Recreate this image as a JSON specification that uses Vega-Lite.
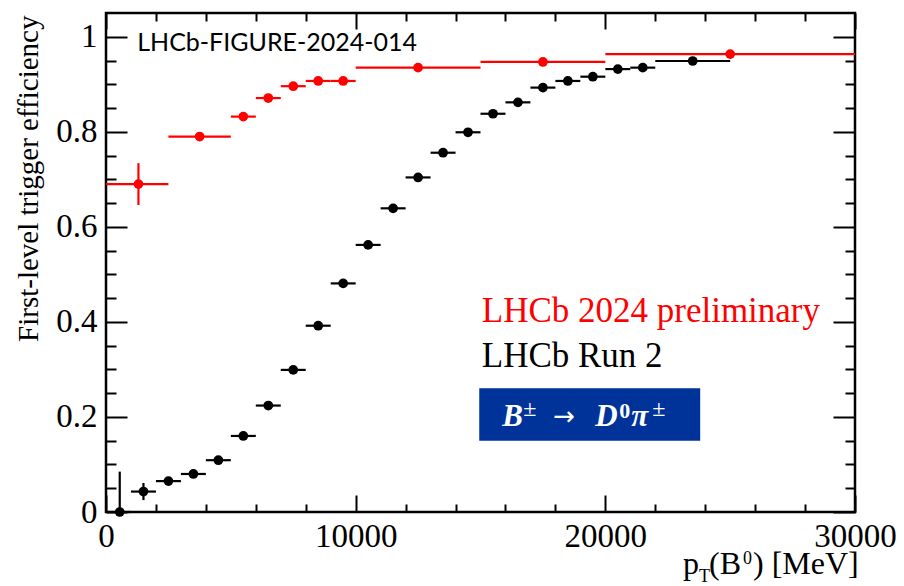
{
  "$schema": "https://vega.github.io/schema/vega-lite/v6.json",
  "width": 749,
  "height": 499,
  "autosize": "none",
  "padding": {"left": 106, "top": 13, "right": 49, "bottom": 74},
  "background": "white",
  "config": {
    "view": {"stroke": "black", "strokeWidth": 2.5},
    "axis": {"domain": false, "grid": false, "tickColor": "black", "tickWidth": 2, "labelColor": "black", "labelFont": "Liberation Serif", "labelFontSize": 33, "labelOverlap": false, "labelFlush": false, "titleColor": "black"}
  },
  "datasets": {
    "eff": [
    {"series": "Run 2", "x": 550, "xlo": 0, "xhi": 1000, "y": 0.0, "ylo": 0.0, "yhi": 0.085},
    {"series": "Run 2", "x": 1500, "xlo": 1000, "xhi": 2000, "y": 0.043, "ylo": 0.025, "yhi": 0.061},
    {"series": "Run 2", "x": 2500, "xlo": 2000, "xhi": 3000, "y": 0.065, "ylo": 0.058, "yhi": 0.072},
    {"series": "Run 2", "x": 3500, "xlo": 3000, "xhi": 4000, "y": 0.080, "ylo": 0.074, "yhi": 0.086},
    {"series": "Run 2", "x": 4500, "xlo": 4000, "xhi": 5000, "y": 0.109, "ylo": 0.104, "yhi": 0.114},
    {"series": "Run 2", "x": 5500, "xlo": 5000, "xhi": 6000, "y": 0.160, "ylo": 0.155, "yhi": 0.165},
    {"series": "Run 2", "x": 6500, "xlo": 6000, "xhi": 7000, "y": 0.224, "ylo": 0.219, "yhi": 0.229},
    {"series": "Run 2", "x": 7500, "xlo": 7000, "xhi": 8000, "y": 0.299, "ylo": 0.294, "yhi": 0.304},
    {"series": "Run 2", "x": 8500, "xlo": 8000, "xhi": 9000, "y": 0.392, "ylo": 0.387, "yhi": 0.397},
    {"series": "Run 2", "x": 9500, "xlo": 9000, "xhi": 10000, "y": 0.481, "ylo": 0.476, "yhi": 0.486},
    {"series": "Run 2", "x": 10500, "xlo": 10000, "xhi": 11000, "y": 0.562, "ylo": 0.557, "yhi": 0.567},
    {"series": "Run 2", "x": 11500, "xlo": 11000, "xhi": 12000, "y": 0.639, "ylo": 0.634, "yhi": 0.644},
    {"series": "Run 2", "x": 12500, "xlo": 12000, "xhi": 13000, "y": 0.704, "ylo": 0.699, "yhi": 0.709},
    {"series": "Run 2", "x": 13500, "xlo": 13000, "xhi": 14000, "y": 0.756, "ylo": 0.751, "yhi": 0.761},
    {"series": "Run 2", "x": 14500, "xlo": 14000, "xhi": 15000, "y": 0.799, "ylo": 0.794, "yhi": 0.804},
    {"series": "Run 2", "x": 15500, "xlo": 15000, "xhi": 16000, "y": 0.838, "ylo": 0.833, "yhi": 0.843},
    {"series": "Run 2", "x": 16500, "xlo": 16000, "xhi": 17000, "y": 0.862, "ylo": 0.857, "yhi": 0.867},
    {"series": "Run 2", "x": 17500, "xlo": 17000, "xhi": 18000, "y": 0.893, "ylo": 0.888, "yhi": 0.898},
    {"series": "Run 2", "x": 18500, "xlo": 18000, "xhi": 19000, "y": 0.907, "ylo": 0.902, "yhi": 0.912},
    {"series": "Run 2", "x": 19500, "xlo": 19000, "xhi": 20000, "y": 0.916, "ylo": 0.911, "yhi": 0.921},
    {"series": "Run 2", "x": 20500, "xlo": 20000, "xhi": 21000, "y": 0.932, "ylo": 0.927, "yhi": 0.937},
    {"series": "Run 2", "x": 21500, "xlo": 21000, "xhi": 22000, "y": 0.935, "ylo": 0.930, "yhi": 0.940},
    {"series": "Run 2", "x": 23500, "xlo": 22000, "xhi": 25000, "y": 0.949, "ylo": 0.945, "yhi": 0.953},
    {"series": "2024", "x": 1300, "xlo": 0, "xhi": 2500, "y": 0.690, "ylo": 0.646, "yhi": 0.734},
    {"series": "2024", "x": 3750, "xlo": 2500, "xhi": 5000, "y": 0.790, "ylo": 0.786, "yhi": 0.794},
    {"series": "2024", "x": 5500, "xlo": 5000, "xhi": 6000, "y": 0.832, "ylo": 0.828, "yhi": 0.836},
    {"series": "2024", "x": 6500, "xlo": 6000, "xhi": 7000, "y": 0.871, "ylo": 0.867, "yhi": 0.875},
    {"series": "2024", "x": 7500, "xlo": 7000, "xhi": 8000, "y": 0.896, "ylo": 0.892, "yhi": 0.900},
    {"series": "2024", "x": 8500, "xlo": 8000, "xhi": 9000, "y": 0.907, "ylo": 0.903, "yhi": 0.911},
    {"series": "2024", "x": 9500, "xlo": 9000, "xhi": 10000, "y": 0.907, "ylo": 0.903, "yhi": 0.911},
    {"series": "2024", "x": 12500, "xlo": 10000, "xhi": 15000, "y": 0.935, "ylo": 0.932, "yhi": 0.938},
    {"series": "2024", "x": 17500, "xlo": 15000, "xhi": 20000, "y": 0.947, "ylo": 0.944, "yhi": 0.950},
    {"series": "2024", "x": 25000, "xlo": 20000, "xhi": 30000, "y": 0.9635, "ylo": 0.961, "yhi": 0.966}
    ],
    "one": [{}]
  },
  "data": {"name": "eff"},
  "resolve": {"axis": {"x": "independent", "y": "independent"}},
  "layer": [
    {
      "mark": {"type": "rule", "strokeWidth": 2.2},
      "encoding": {
        "x": {"field": "xlo", "type": "quantitative", "scale": {"domain": [0, 30000], "nice": false, "zero": false},
          "axis": {"orient": "bottom", "title": null,
            "values": [0,2000,4000,6000,8000,10000,12000,14000,16000,18000,20000,22000,24000,26000,28000,30000],
            "tickSize": {"condition": {"test": "datum.value % 10000 == 0", "value": -17}, "value": -8},
            "labelExpr": "datum.value % 10000 == 0 ? format(datum.value, 'd') : ''",
            "labelPadding": 25}},
        "x2": {"field": "xhi"},
        "y": {"field": "y", "type": "quantitative", "scale": {"domain": [0, 1.05], "nice": false, "zero": false},
          "axis": {"orient": "left",
            "values": [0,0.05,0.1,0.15,0.2,0.25,0.3,0.35,0.4,0.45,0.5,0.55,0.6,0.65,0.7,0.75,0.8,0.85,0.9,0.95,1.0],
            "tickSize": {"condition": {"test": "abs(datum.value*5 - round(datum.value*5)) < 0.000001", "value": -21}, "value": -10},
            "labelExpr": "abs(datum.value*5 - round(datum.value*5)) < 0.000001 ? format(datum.value, '~g') : ''",
            "labelPadding": 30,
            "title": "First-level trigger efficiency", "titleFont": "Liberation Serif", "titleFontSize": 29, "titleFontWeight": "normal",
            "titleAngle": 270, "titleAlign": "right", "titleBaseline": "bottom", "titleX": -63, "titleY": 2}},
        "color": {"field": "series", "type": "nominal", "scale": {"domain": ["Run 2", "2024"], "range": ["#000000", "#ff0000"]}, "legend": null}
      }
    },
    {
      "mark": {"type": "rule", "strokeWidth": 2.2},
      "encoding": {
        "x": {"field": "x", "type": "quantitative",
          "axis": {"orient": "top", "title": null, "labels": false,
            "values": [0,2000,4000,6000,8000,10000,12000,14000,16000,18000,20000,22000,24000,26000,28000,30000],
            "tickSize": {"condition": {"test": "datum.value % 10000 == 0", "value": -16}, "value": -8}}},
        "y": {"field": "ylo", "type": "quantitative",
          "axis": {"orient": "right", "title": null, "labels": false,
            "values": [0,0.05,0.1,0.15,0.2,0.25,0.3,0.35,0.4,0.45,0.5,0.55,0.6,0.65,0.7,0.75,0.8,0.85,0.9,0.95,1.0],
            "tickSize": {"condition": {"test": "abs(datum.value*5 - round(datum.value*5)) < 0.000001", "value": -22}, "value": -10}}},
        "y2": {"field": "yhi"},
        "color": {"field": "series", "type": "nominal", "legend": null}
      }
    },
    {
      "mark": {"type": "circle", "size": 95, "opacity": 1},
      "encoding": {
        "x": {"field": "x", "type": "quantitative", "axis": null},
        "y": {"field": "y", "type": "quantitative", "axis": null},
        "color": {"field": "series", "type": "nominal", "legend": null}
      }
    },
    {
      "data": {"name": "one"},
      "mark": {"type": "text", "text": "LHCb-FIGURE-2024-014", "font": "Lato", "fontSize": 25, "align": "left", "baseline": "alphabetic", "color": "black"},
      "encoding": {"x": {"datum": 1250, "type": "quantitative", "axis": null}, "y": {"datum": 0.969, "type": "quantitative", "axis": null}}
    },
    {
      "data": {"name": "one"},
      "mark": {"type": "text", "text": "LHCb 2024 preliminary", "font": "Liberation Serif", "fontSize": 35, "align": "left", "baseline": "alphabetic", "color": "#ff0000"},
      "encoding": {"x": {"datum": 15050, "type": "quantitative", "axis": null}, "y": {"datum": 0.4006, "type": "quantitative", "axis": null}}
    },
    {
      "data": {"name": "one"},
      "mark": {"type": "text", "text": "LHCb Run 2", "font": "Liberation Serif", "fontSize": 35, "align": "left", "baseline": "alphabetic", "color": "black"},
      "encoding": {"x": {"datum": 15050, "type": "quantitative", "axis": null}, "y": {"datum": 0.3046, "type": "quantitative", "axis": null}}
    },
    {
      "data": {"name": "one"},
      "mark": {"type": "rect", "color": "#00339a"},
      "encoding": {"x": {"datum": 14950, "type": "quantitative", "axis": null}, "x2": {"datum": 23800}, "y": {"datum": 0.2604, "type": "quantitative", "axis": null}, "y2": {"datum": 0.150}}
    },
    {
      "data": {"name": "one"},
      "mark": {"type": "text", "text": "B", "font": "Liberation Serif", "fontSize": 31, "fontWeight": "bold", "fontStyle": "italic", "align": "left", "baseline": "alphabetic", "color": "white", "dx": 23},
      "encoding": {"x": {"datum": 14950, "type": "quantitative", "axis": null}, "y": {"datum": 0.18, "type": "quantitative", "axis": null}}
    },
    {
      "data": {"name": "one"},
      "mark": {"type": "text", "text": "±", "font": "Liberation Serif", "fontSize": 24, "align": "left", "baseline": "alphabetic", "color": "white", "dx": 44, "dy": -10},
      "encoding": {"x": {"datum": 14950, "type": "quantitative", "axis": null}, "y": {"datum": 0.18, "type": "quantitative", "axis": null}}
    },
    {
      "data": {"name": "one"},
      "mark": {"type": "text", "text": "→", "font": "DejaVu Sans", "fontSize": 26, "align": "left", "baseline": "alphabetic", "color": "white", "dx": 74, "dy": -1},
      "encoding": {"x": {"datum": 14950, "type": "quantitative", "axis": null}, "y": {"datum": 0.18, "type": "quantitative", "axis": null}}
    },
    {
      "data": {"name": "one"},
      "mark": {"type": "text", "text": "D", "font": "Liberation Serif", "fontSize": 31, "fontWeight": "bold", "fontStyle": "italic", "align": "left", "baseline": "alphabetic", "color": "white", "dx": 116},
      "encoding": {"x": {"datum": 14950, "type": "quantitative", "axis": null}, "y": {"datum": 0.18, "type": "quantitative", "axis": null}}
    },
    {
      "data": {"name": "one"},
      "mark": {"type": "text", "text": "0", "font": "Liberation Serif", "fontSize": 22, "fontWeight": "bold", "align": "left", "baseline": "alphabetic", "color": "white", "dx": 140, "dy": -8},
      "encoding": {"x": {"datum": 14950, "type": "quantitative", "axis": null}, "y": {"datum": 0.18, "type": "quantitative", "axis": null}}
    },
    {
      "data": {"name": "one"},
      "mark": {"type": "text", "text": "π", "font": "Liberation Serif", "fontSize": 31, "fontWeight": "bold", "fontStyle": "italic", "align": "left", "baseline": "alphabetic", "color": "white", "dx": 152},
      "encoding": {"x": {"datum": 14950, "type": "quantitative", "axis": null}, "y": {"datum": 0.18, "type": "quantitative", "axis": null}}
    },
    {
      "data": {"name": "one"},
      "mark": {"type": "text", "text": "±", "font": "Liberation Serif", "fontSize": 24, "align": "left", "baseline": "alphabetic", "color": "white", "dx": 173, "dy": -10},
      "encoding": {"x": {"datum": 14950, "type": "quantitative", "axis": null}, "y": {"datum": 0.18, "type": "quantitative", "axis": null}}
    },
    {
      "data": {"name": "one"},
      "mark": {"type": "text", "text": "p", "font": "Liberation Serif", "fontSize": 32, "align": "left", "baseline": "alphabetic", "color": "black", "dx": -172},
      "encoding": {"x": {"datum": 30000, "type": "quantitative", "axis": null}, "y": {"datum": -0.13, "type": "quantitative", "axis": null}}
    },
    {
      "data": {"name": "one"},
      "mark": {"type": "text", "text": "T", "font": "Liberation Serif", "fontSize": 18, "align": "left", "baseline": "alphabetic", "color": "black", "dx": -156, "dy": 8},
      "encoding": {"x": {"datum": 30000, "type": "quantitative", "axis": null}, "y": {"datum": -0.13, "type": "quantitative", "axis": null}}
    },
    {
      "data": {"name": "one"},
      "mark": {"type": "text", "text": "(B", "font": "Liberation Serif", "fontSize": 32, "align": "left", "baseline": "alphabetic", "color": "black", "dx": -146},
      "encoding": {"x": {"datum": 30000, "type": "quantitative", "axis": null}, "y": {"datum": -0.13, "type": "quantitative", "axis": null}}
    },
    {
      "data": {"name": "one"},
      "mark": {"type": "text", "text": "0", "font": "Liberation Serif", "fontSize": 18, "align": "left", "baseline": "alphabetic", "color": "black", "dx": -112, "dy": -10},
      "encoding": {"x": {"datum": 30000, "type": "quantitative", "axis": null}, "y": {"datum": -0.13, "type": "quantitative", "axis": null}}
    },
    {
      "data": {"name": "one"},
      "mark": {"type": "text", "text": ") [MeV]", "font": "Liberation Serif", "fontSize": 32, "align": "left", "baseline": "alphabetic", "color": "black", "dx": -102},
      "encoding": {"x": {"datum": 30000, "type": "quantitative", "axis": null}, "y": {"datum": -0.13, "type": "quantitative", "axis": null}}
    }
  ]
}
